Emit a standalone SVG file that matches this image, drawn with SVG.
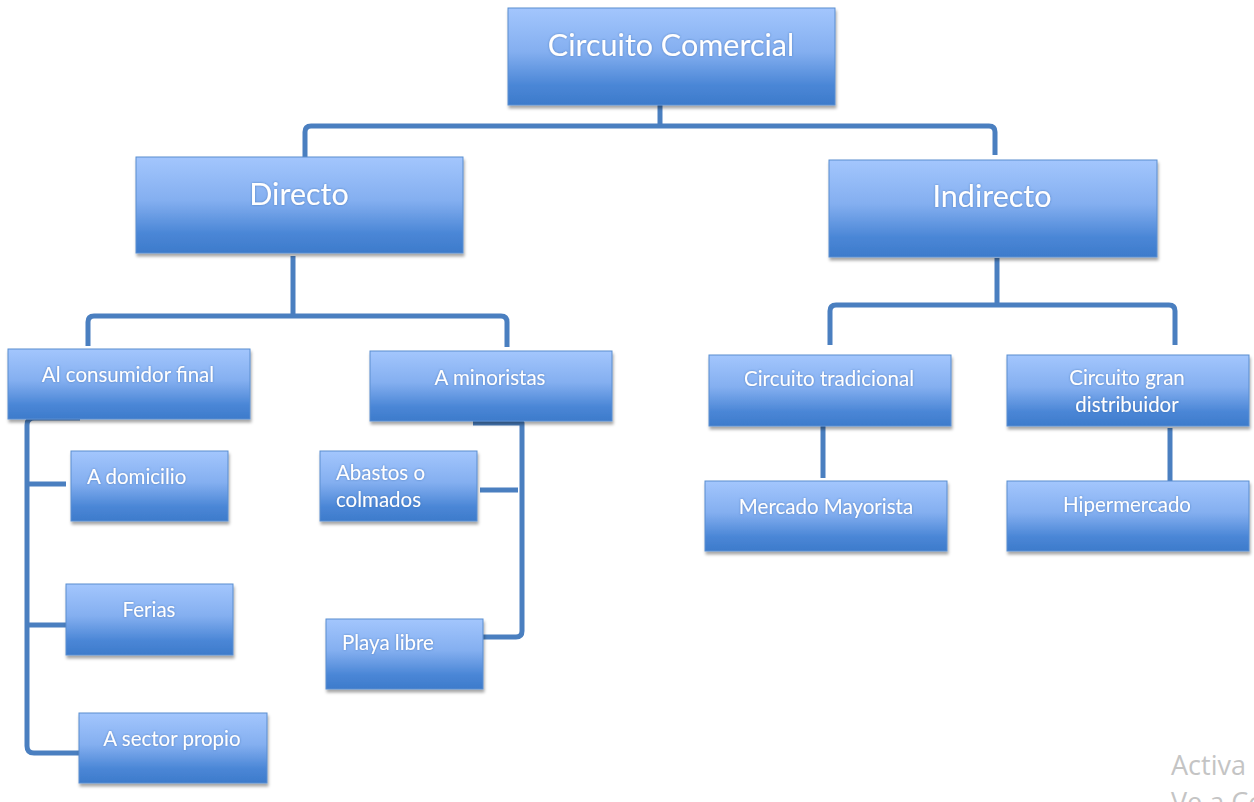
<svg xmlns="http://www.w3.org/2000/svg" width="1254" height="802" viewBox="0 0 1254 802">
<defs>
<linearGradient id="g" x1="0" y1="0" x2="0" y2="1">
<stop offset="0" stop-color="#a3c6fd"/>
<stop offset="0.45" stop-color="#84aff0"/>
<stop offset="0.8" stop-color="#4a86d6"/>
<stop offset="1" stop-color="#3d7bcb"/>
</linearGradient>
<filter id="sh" x="-10%" y="-10%" width="125%" height="130%">
<feDropShadow dx="1" dy="3" stdDeviation="1.5" flood-color="#000" flood-opacity="0.35"/>
</filter>
<filter id="ts" x="-5%" y="-20%" width="110%" height="140%">
<feDropShadow dx="0" dy="0" stdDeviation="0.8" flood-color="#2f5f9e" flood-opacity="0.6"/>
</filter>
</defs>
<style>
.box{fill:url(#g);stroke:#5a8ed0;stroke-width:1;filter:url(#sh)}
.t{font-family:Lato,"Liberation Sans",sans-serif;fill:#fff;filter:url(#ts)}
.big{font-size:30.5px;text-anchor:middle}
.sm{font-size:20.5px}
.c{text-anchor:middle}
.con{fill:none;stroke:#4a7fc0;stroke-width:5;stroke-linejoin:round;stroke-linecap:butt}
.wm{font-family:"Open Sans","Liberation Sans",sans-serif;fill:#c4c4c4;font-size:27px}
</style>
<g id="connectors">
<path class="con" d="M660 105 V125"/>
<path class="con" d="M305 157 V132 Q305 126 311 126 H989 Q995 126 995 132 V155"/>
<path class="con" d="M293 256 V316"/>
<path class="con" d="M88 346 V322 Q88 316 94 316 H501 Q507 316 507 322 V347"/>
<path class="con" d="M997 258 V305"/>
<path class="con" d="M830 345 V311 Q830 305 836 305 H1169 Q1175 305 1175 311 V345"/>
<path class="con" d="M80 418 H34 Q27 418 27 425 V746 Q27 753 34 753 H79"/>
<path class="con" d="M27 484 H66"/>
<path class="con" d="M27 625 H66"/>
<path class="con" d="M473 423 H522 V631 Q522 637 516 637 H483"/>
<path class="con" d="M480 490 H518"/>
<path class="con" d="M823 426 V478"/>
<path class="con" d="M1170 428 V481"/>
</g>
<g id="n-comercial"><rect class="box" x="508" y="8" width="327" height="97"/><text class="t big" x="671" y="56">Circuito Comercial</text></g>
<g id="n-directo"><rect class="box" x="136" y="157" width="327" height="96"/><text class="t big" x="299" y="205">Directo</text></g>
<g id="n-indirecto"><rect class="box" x="829" y="160" width="328" height="97"/><text class="t big" x="992" y="207">Indirecto</text></g>
<g id="n-consumidor"><rect class="box" x="8" y="349" width="242" height="70"/><text class="t sm c" x="128" y="382">Al consumidor final</text></g>
<g id="n-minoristas"><rect class="box" x="370" y="351" width="242" height="70"/><text class="t sm c" x="490" y="385">A minoristas</text></g>
<g id="n-tradicional"><rect class="box" x="709" y="355" width="242" height="71"/><text class="t sm c" x="829" y="386">Circuito tradicional</text></g>
<g id="n-gran"><rect class="box" x="1007" y="355" width="242" height="71"/><text class="t sm c" x="1127" y="385">Circuito gran</text><text class="t sm c" x="1127" y="412">distribuidor</text></g>
<g id="n-domicilio"><rect class="box" x="71" y="451" width="157" height="70"/><text class="t sm" x="87" y="484">A domicilio</text></g>
<g id="n-abastos"><rect class="box" x="320" y="451" width="157" height="70"/><text class="t sm" x="336" y="480">Abastos o</text><text class="t sm" x="336" y="507">colmados</text></g>
<g id="n-ferias"><rect class="box" x="66" y="584" width="167" height="71"/><text class="t sm c" x="149" y="617">Ferias</text></g>
<g id="n-playa"><rect class="box" x="326" y="619" width="157" height="70"/><text class="t sm" x="342" y="650">Playa libre</text></g>
<g id="n-sector"><rect class="box" x="79" y="713" width="188" height="70"/><text class="t sm c" x="172" y="746">A sector propio</text></g>
<g id="n-mayorista"><rect class="box" x="705" y="481" width="242" height="70"/><text class="t sm c" x="826" y="514">Mercado Mayorista</text></g>
<g id="n-hiper"><rect class="box" x="1007" y="481" width="242" height="70"/><text class="t sm c" x="1127" y="512">Hipermercado</text></g>
<text class="wm" x="1171" y="775">Activa</text>
<text class="wm" x="1171" y="812" font-size="20">Ve a Co</text>
</svg>
